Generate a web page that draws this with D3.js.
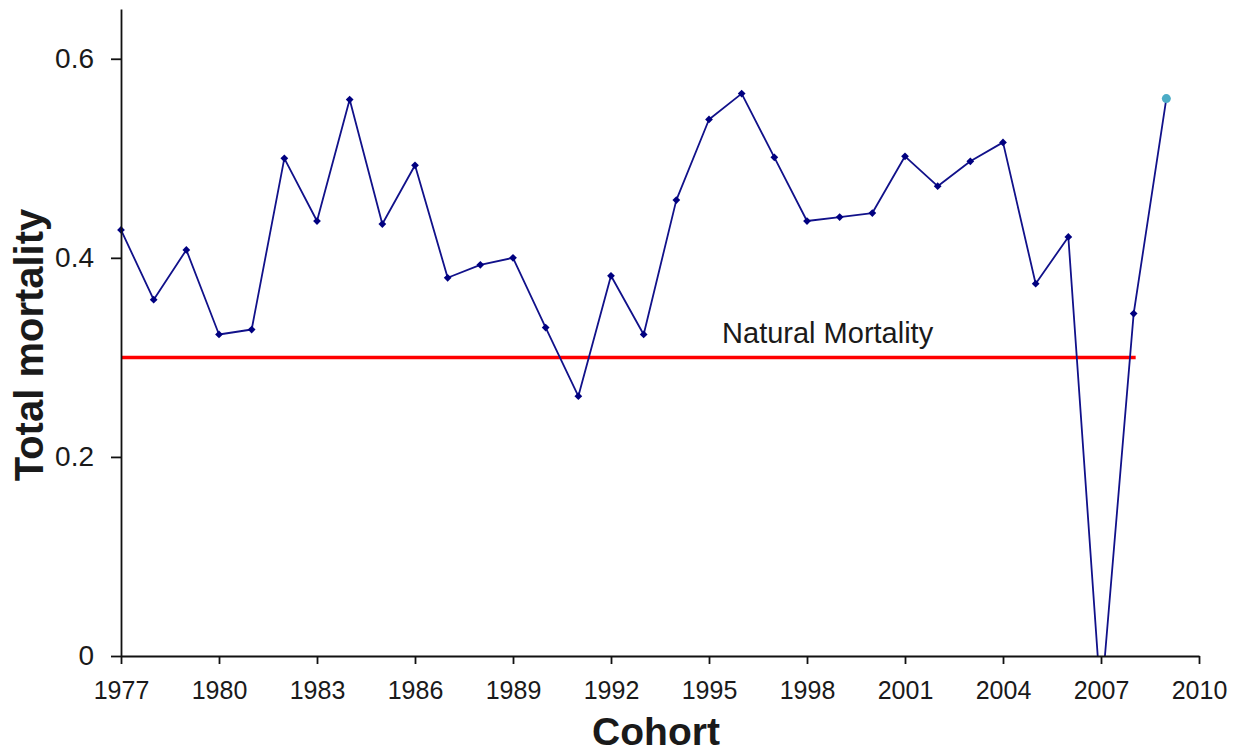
<!DOCTYPE html>
<html lang="en">
<head>
    <meta charset="utf-8">
    <title>D3: Total mortality by cohort</title>
    <script type="text/javascript" src="https://d3js.org/d3.v7.min.js"></script>
    <style>
        body { margin: 0; background: #fff; }
        text { font-family: "Liberation Sans", Arial, Helvetica, sans-serif; fill: #1a1a1a; }
    </style>
</head>
<body>
    <script type="text/javascript">

        // Cohort years and total mortality
        var cohorts = [1977, 1978, 1979, 1980, 1981, 1982, 1983, 1984, 1985, 1986,
                       1987, 1988, 1989, 1990, 1991, 1992, 1993, 1994, 1995, 1996,
                       1997, 1998, 1999, 2000, 2001, 2002, 2003, 2004, 2005, 2006,
                       2007, 2008, 2009];
        var totalMortality = [0.428, 0.358, 0.408, 0.323, 0.328, 0.500, 0.437, 0.559, 0.434, 0.493,
                              0.380, 0.393, 0.400, 0.330, 0.261, 0.382, 0.323, 0.458, 0.539, 0.565,
                              0.501, 0.437, 0.441, 0.445, 0.502, 0.472, 0.497, 0.516, 0.374, 0.421,
                              -0.047, 0.344, 0.560];
        // last cohort is drawn with its own marker (projection)
        var projectedCohort = 2009;

        // Natural mortality reference line
        var naturalMortality = 0.3;
        var naturalRange = [1977, 2008];
        var naturalLabel = "Natural Mortality";
        var naturalLabelYear = 1995.4;

        var xTicks = [1977, 1980, 1983, 1986, 1989, 1992, 1995, 1998, 2001, 2004, 2007, 2010];
        var yTicks = [0, 0.2, 0.4, 0.6];

        var width = 1239, height = 753;
        var svg = d3.select("body").append("svg")
            .attr("width", width)
            .attr("height", height);

        var x = d3.scaleLinear().domain([1977, 2010]).range([121, 1199]);
        var y = d3.scaleLinear().domain([0, 0.65]).range([656, 9]);

        // Clip below zero so the 2007 dip is cut at the axis
        svg.append("clipPath").attr("id", "plot")
            .append("rect")
            .attr("x", 0).attr("y", 0)
            .attr("width", width).attr("height", y(0));

        var data = cohorts.map(function(c, i) { return { cohort: c, value: totalMortality[i] }; });

        // Natural mortality line
        svg.append("line")
            .attr("x1", x(naturalRange[0]))
            .attr("x2", x(naturalRange[1]) + 2)
            .attr("y1", y(naturalMortality))
            .attr("y2", y(naturalMortality))
            .attr("stroke", "#ff0000")
            .attr("stroke-width", 3.5);

        svg.append("text")
            .attr("x", x(naturalLabelYear))
            .attr("y", y(naturalMortality) - 14)
            .attr("font-size", 29)
            .text(naturalLabel);

        // Total mortality line
        var line = d3.line()
            .x(function(d) { return x(d.cohort); })
            .y(function(d) { return y(d.value); });

        var plot = svg.append("g").attr("clip-path", "url(#plot)");

        plot.append("path")
            .datum(data)
            .attr("d", line)
            .attr("fill", "none")
            .attr("stroke", "#11118a")
            .attr("stroke-width", 1.8)
            .attr("stroke-linejoin", "round");

        var diamond = d3.symbol().type(d3.symbolSquare).size(30);

        plot.selectAll("path.marker")
            .data(data.filter(function(d) { return d.cohort !== projectedCohort; }))
            .enter()
            .append("path")
            .attr("class", "marker")
            .attr("d", diamond)
            .attr("transform", function(d) { return "translate(" + x(d.cohort) + "," + y(d.value) + ") rotate(45)"; })
            .attr("fill", "#000080");

        plot.selectAll("circle.projected")
            .data(data.filter(function(d) { return d.cohort === projectedCohort; }))
            .enter()
            .append("circle")
            .attr("class", "projected")
            .attr("cx", function(d) { return x(d.cohort); })
            .attr("cy", function(d) { return y(d.value); })
            .attr("r", 4.5)
            .attr("fill", "#4bacc6");

        // Axes
        var xAxis = svg.append("g")
            .attr("transform", "translate(0," + y(0) + ")")
            .call(d3.axisBottom(x).tickValues(xTicks).tickFormat(d3.format("d")).tickSize(8).tickPadding(17).tickSizeOuter(0));

        var yAxis = svg.append("g")
            .attr("transform", "translate(" + x(1977) + ",0)")
            .call(d3.axisLeft(y).tickValues(yTicks).tickFormat(function(d) { return d === 0 ? "0" : d3.format(".1f")(d); }).tickSize(10).tickPadding(17).tickSizeOuter(0));

        xAxis.selectAll("text").attr("font-size", 25).style("font-family", "'Liberation Sans', Arial, sans-serif").attr("fill", "#1a1a1a");
        yAxis.selectAll("text").attr("font-size", 28).style("font-family", "'Liberation Sans', Arial, sans-serif").attr("fill", "#1a1a1a");
        svg.selectAll(".domain, .tick line").attr("stroke", "#111").attr("stroke-width", 1.8);

        // Axis titles
        svg.append("text")
            .attr("x", 656)
            .attr("y", 745)
            .attr("text-anchor", "middle")
            .attr("font-size", 39)
            .attr("font-weight", "bold")
            .attr("fill", "#000")
            .text("Cohort");

        svg.append("text")
            .attr("transform", "translate(43,345) rotate(-90)")
            .attr("text-anchor", "middle")
            .attr("font-size", 40)
            .attr("font-weight", "bold")
            .attr("fill", "#000")
            .text("Total mortality");

    </script>
</body>
</html>
